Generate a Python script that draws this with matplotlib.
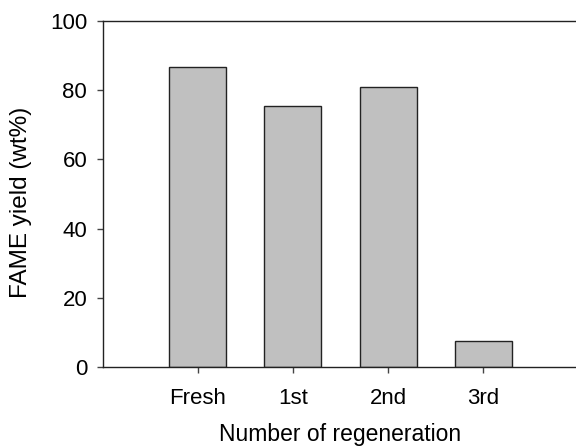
import matplotlib
matplotlib.use("Agg")
from matplotlib import pyplot as plt

categories = ["Fresh", "1st", "2nd", "3rd"]
yields = [86.8, 75.4, 80.9, 7.4]
yticks = [0, 20, 40, 60, 80, 100]

plt.rcParams['font.family'] = ['Liberation Sans', 'DejaVu Sans']

fig = plt.figure(figsize=(5.76, 4.48), dpi=100)
# right edge deliberately past the figure so the right spine is cut off
ax = fig.add_axes([102.5 / 576, 1 - 367 / 448, 476 / 576, 346 / 448])

pos = [1, 2, 3, 4]
ax.bar(pos, yields, width=0.6, color='#c0c0c0', edgecolor='#222222', linewidth=1.0)

ax.set_xlim(0, 5)
ax.set_ylim(0, 100)
ax.set_xticks(pos)
ax.set_xticklabels(categories)
ax.set_yticks(yticks)

for s in ax.spines.values():
    s.set_linewidth(1.0)
    s.set_color('#222222')

ax.tick_params(axis='both', direction='out', length=4, width=1.0, color='#444444',
               labelsize=16, pad=7)
ax.tick_params(axis='x', pad=11)

ax.set_xlabel("Number of regeneration", fontsize=16.5, labelpad=10)
ax.set_ylabel("FAME yield (wt%)", fontsize=17.5)
ax.yaxis.set_label_coords(-0.148, 0.477)

fig.savefig("out.png", dpi=100)
